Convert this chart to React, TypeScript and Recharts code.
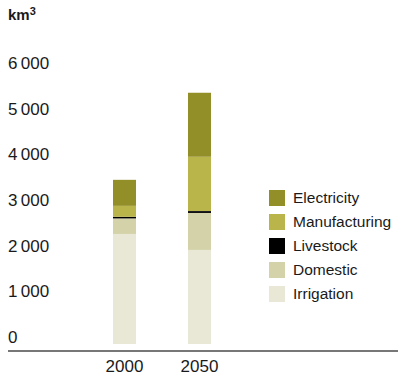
import React from 'react';
import { BarChart, Bar, XAxis, YAxis } from 'recharts';

// Categorías y valores (km³)
const YEARS = ['2000', '2050'];
const IRRIGATION = [2410, 2060];
const DOMESTIC = [340, 810];
const LIVESTOCK = [35, 40];
const MANUFACTURING = [240, 1190];
const ELECTRICITY = [570, 1400];
const Y_TICKS = [0, 1000, 2000, 3000, 4000, 5000, 6000];

// Series de abajo hacia arriba
const SERIES = [
  { key: 'irrigation', name: 'Irrigation', color: '#e9e8d6', values: IRRIGATION },
  { key: 'domestic', name: 'Domestic', color: '#d4d2a8', values: DOMESTIC },
  { key: 'livestock', name: 'Livestock', color: '#000000', values: LIVESTOCK },
  { key: 'manufacturing', name: 'Manufacturing', color: '#b9b54a', values: MANUFACTURING },
  { key: 'electricity', name: 'Electricity', color: '#928e28', values: ELECTRICITY },
];

const data = YEARS.map((year, i) => {
  const row: any = { year };
  SERIES.forEach((s) => {
    row[s.key] = s.values[i];
  });
  return row;
});

const FONT = '"Liberation Sans", Arial, Helvetica, sans-serif';

const formatTick = (v: number) =>
  v >= 1000 ? `${Math.floor(v / 1000)}\u2009${String(v % 1000).padStart(3, '0')}` : String(v);

function YTick(props: any) {
  const { y, payload } = props;
  return (
    <text x={8} y={y - 1} fontSize={17} fill="#1a1a1a" fontFamily={FONT} textAnchor="start">
      {formatTick(payload.value)}
    </text>
  );
}

function XTick(props: any) {
  const { x, payload } = props;
  return (
    <text x={x} y={372} fontSize={17} fill="#1a1a1a" fontFamily={FONT} textAnchor="middle">
      {payload.value}
    </text>
  );
}

// Leyenda propia, de arriba (Electricity) hacia abajo (Irrigation)
function ChartLegend() {
  const items = [...SERIES].reverse();
  return (
    <div style={{ position: 'absolute', left: 269, top: 186 }}>
      {items.map((s) => (
        <div key={s.key} style={{ display: 'flex', alignItems: 'center', height: 24 }}>
          <span style={{ width: 16, height: 16, background: s.color, display: 'inline-block', marginRight: 8 }} />
          <span style={{ fontSize: 15.5, color: '#1a1a1a' }}>{s.name}</span>
        </div>
      ))}
    </div>
  );
}

export default function App() {
  return (
    <div style={{ position: 'absolute', left: 0, top: 0, width: 398, height: 378, background: '#fff', fontFamily: FONT }}>
      <div style={{ position: 'absolute', left: 8, top: 6, fontSize: 15, fontWeight: 'bold', color: '#1a1a1a' }}>
        km<span style={{ fontSize: 11, position: 'relative', top: -5 }}>3</span>
      </div>
      <BarChart width={398} height={378} data={data} margin={{ top: 70, right: 161, bottom: 0, left: 8 }}>
        <XAxis dataKey="year" height={34} axisLine={false} tickLine={false} tick={<XTick />} interval={0} />
        <YAxis
          width={79}
          domain={[0, 6000]}
          ticks={Y_TICKS}
          axisLine={false}
          tickLine={false}
          tick={<YTick />}
          interval={0}
        />
        {SERIES.map((s) => (
          <Bar key={s.key} dataKey={s.key} name={s.name} stackId="a" fill={s.color} barSize={23} isAnimationActive={false} />
        ))}
      </BarChart>
      <ChartLegend />
      <div style={{ position: 'absolute', left: 8, top: 350, width: 390, height: 2, background: '#777' }} />
    </div>
  );
}
